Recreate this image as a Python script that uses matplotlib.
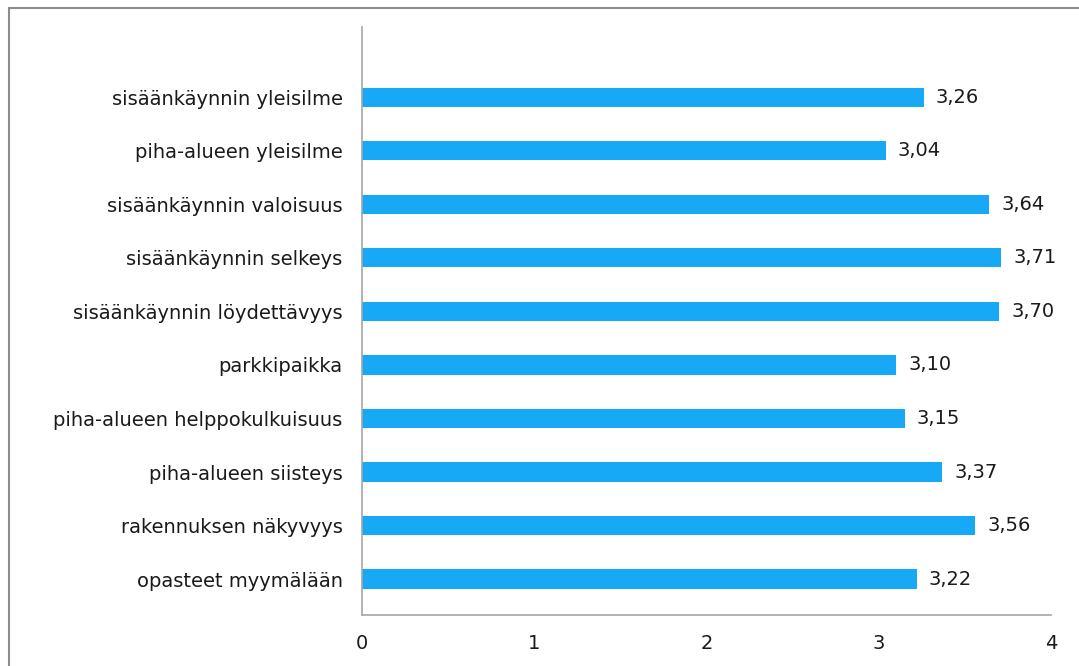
import matplotlib
matplotlib.use('Agg')
import matplotlib.pyplot as plt
from matplotlib.patches import Rectangle

categories = ['opasteet myymälään', 'rakennuksen näkyvyys', 'piha-alueen siisteys',
              'piha-alueen helppokulkuisuus', 'parkkipaikka', 'sisäänkäynnin löydettävyys',
              'sisäänkäynnin selkeys', 'sisäänkäynnin valoisuus', 'piha-alueen yleisilme',
              'sisäänkäynnin yleisilme']
values = [3.22, 3.56, 3.37, 3.15, 3.10, 3.70, 3.71, 3.64, 3.04, 3.26]
xticks = [0, 1, 2, 3, 4]

plt.rcParams['font.family'] = ['DejaVu Sans']

fig = plt.figure(figsize=(10.79, 6.66), dpi=100)
ax = fig.add_axes([362 / 1079, 51 / 666, 689 / 1079, 588 / 666])

ypos = list(range(len(categories)))
ax.barh(ypos, values, height=0.36, color='#17A9F5')
for y, v in zip(ypos, values):
    ax.text(v + 0.07, y, ('%.2f' % v).replace('.', ','), va='center', ha='left',
            fontsize=14, color='#1a1a1a')

ax.set_xlim(0, 4)
ax.set_ylim(-0.67, 9 + 1.31)
ax.set_xticks(xticks)
ax.set_xticklabels([str(t) for t in xticks])
ax.set_yticks(ypos)
ax.set_yticklabels(categories)
ax.tick_params(axis='both', length=0, labelsize=14, labelcolor='#1a1a1a')
ax.tick_params(axis='x', pad=14)
ax.tick_params(axis='y', pad=14)
for s in ['top', 'right']:
    ax.spines[s].set_visible(False)
for s in ['left', 'bottom']:
    ax.spines[s].set_color('#a6a6a6')
    ax.spines[s].set_linewidth(1.2)

# outer chart border
fig.add_artist(Rectangle((9 / 1079, -0.1), 1.2, 0.1 + (666 - 8) / 666,
                         transform=fig.transFigure, fill=False,
                         edgecolor='#8c8c8c', linewidth=1.5))

fig.savefig('out.png', dpi=100)
